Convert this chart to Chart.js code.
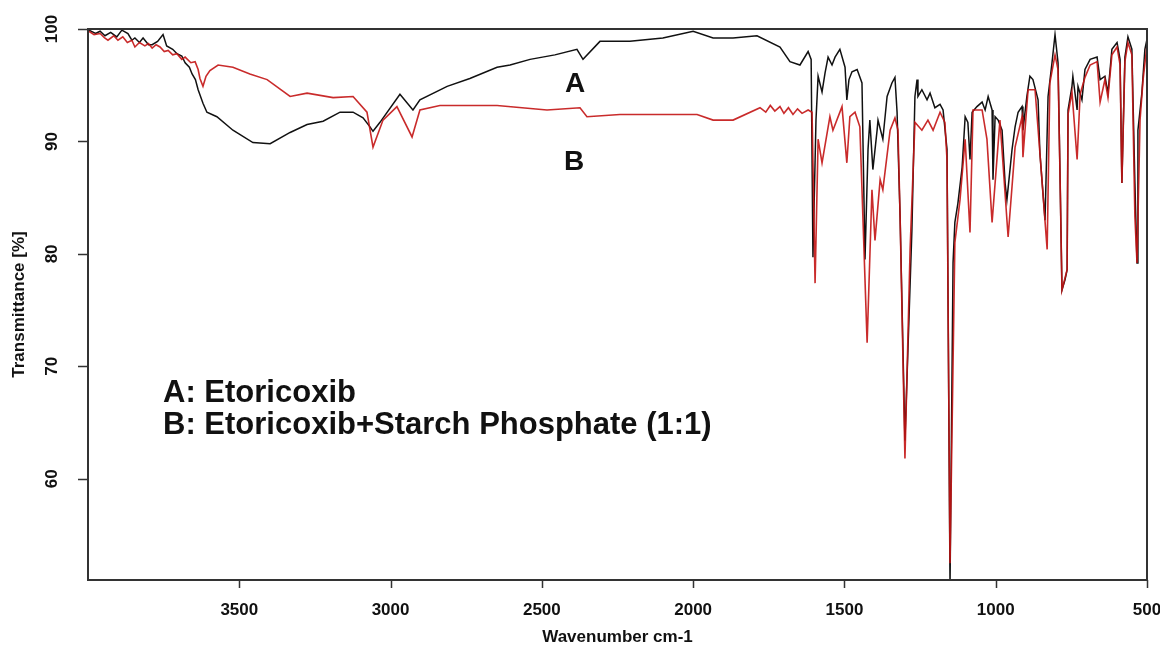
<!DOCTYPE html>
<html>
<head>
<meta charset="utf-8">
<script src="https://cdn.jsdelivr.net/npm/chart.js@4.4.1/dist/chart.umd.min.js"></script>
<style>
html,body{margin:0;padding:0;background:#fff;}
#wrap{width:1160px;height:646px;position:relative;}
</style>
</head>
<body>
<div id="wrap"><canvas id="c" width="1160" height="646"></canvas></div>
<script>
// ---- data (wavenumber cm-1, transmittance %) ----
const spectrumA = [[3997,99.9],[3975,99.6],[3960,99.8],[3944,99.4],[3925,99.7],[3905,99.3],[3888,99.9],[3868,99.6],[3855,99.0],[3845,99.2],[3830,98.8],[3818,99.2],[3800,98.6],[3788,98.6],[3770,98.9],[3752,99.5],[3740,98.5],[3720,98.2],[3706,97.8],[3690,97.6],[3679,97.0],[3665,96.6],[3656,96.0],[3645,95.5],[3636,94.6],[3620,93.4],[3607,92.6],[3574,92.2],[3521,91.0],[3455,89.9],[3398,89.8],[3332,90.8],[3276,91.5],[3223,91.8],[3167,92.6],[3124,92.6],[3091,92.1],[3068,91.3],[3058,90.9],[3035,91.7],[2969,94.2],[2926,92.8],[2903,93.7],[2813,94.9],[2738,95.6],[2648,96.6],[2605,96.8],[2539,97.3],[2457,97.7],[2384,98.2],[2364,97.3],[2308,98.9],[2209,98.9],[2100,99.2],[2000,99.8],[1934,99.2],[1868,99.2],[1789,99.4],[1713,98.4],[1680,97.1],[1647,96.8],[1620,98.0],[1610,97.3],[1604,79.7],[1594,91.9],[1587,95.8],[1574,94.4],[1564,96.1],[1554,97.5],[1541,96.8],[1531,97.5],[1515,98.2],[1498,96.6],[1492,93.7],[1485,95.5],[1475,96.2],[1458,96.4],[1442,95.2],[1432,79.5],[1422,89.3],[1416,91.9],[1406,87.5],[1392,91.0],[1389,91.9],[1373,90.2],[1359,94.0],[1343,95.2],[1333,95.7],[1326,92.6],[1316,83.3],[1300,63.4],[1277,82.1],[1267,94.0],[1260,95.5],[1257,94.0],[1244,94.6],[1227,93.7],[1217,94.3],[1201,93.0],[1184,93.3],[1174,92.8],[1161,89.3],[1151,50.5],[1141,79.2],[1135,82.8],[1125,84.5],[1111,87.7],[1101,92.2],[1092,91.7],[1085,88.4],[1078,92.6],[1062,93.1],[1045,93.5],[1035,92.8],[1025,94.0],[1012,92.8],[1009,86.6],[1002,92.2],[992,91.9],[979,91.0],[969,86.3],[963,84.8],[946,89.3],[936,91.3],[926,92.6],[913,93.1],[910,91.0],[897,94.0],[887,95.8],[877,95.5],[860,93.7],[854,89.0],[837,83.0],[827,94.0],[814,97.0],[804,99.5],[794,97.0],[787,86.3],[781,76.8],[771,77.7],[764,78.6],[761,92.8],[748,94.9],[745,95.8],[731,92.8],[728,94.9],[715,93.7],[705,96.4],[688,97.3],[665,97.5],[655,95.5],[639,95.8],[629,94.3],[616,98.2],[599,98.8],[589,97.3],[583,86.3],[573,97.5],[563,99.3],[550,98.2],[540,86.3],[533,79.2],[530,91.0],[517,94.3],[507,98.2],[500,99.1]];

const spectrumB = [[3997,99.8],[3980,99.5],[3960,99.6],[3945,99.2],[3934,99.0],[3915,99.4],[3901,99.0],[3885,99.3],[3870,98.8],[3855,99.0],[3845,98.4],[3830,98.8],[3812,98.5],[3800,98.7],[3788,98.3],[3775,98.6],[3762,98.4],[3748,98.0],[3735,98.1],[3720,97.7],[3706,97.8],[3690,97.3],[3679,97.5],[3660,97.0],[3646,97.1],[3636,96.4],[3630,95.6],[3620,94.9],[3610,95.8],[3597,96.3],[3570,96.8],[3521,96.6],[3465,96.0],[3408,95.5],[3332,94.0],[3276,94.3],[3190,93.9],[3124,94.0],[3078,92.6],[3058,89.5],[3025,91.9],[2979,93.1],[2929,90.4],[2903,92.8],[2837,93.2],[2648,93.2],[2483,92.8],[2374,93.0],[2351,92.2],[2242,92.4],[2153,92.4],[1987,92.4],[1934,91.9],[1868,91.9],[1779,93.0],[1760,92.6],[1745,93.2],[1730,92.7],[1713,93.1],[1700,92.5],[1685,93.0],[1670,92.4],[1655,92.9],[1640,92.5],[1620,92.8],[1607,92.6],[1597,77.4],[1587,90.2],[1574,88.1],[1548,92.2],[1538,91.0],[1508,93.1],[1492,88.1],[1482,92.2],[1465,92.6],[1449,91.3],[1425,72.1],[1409,85.7],[1399,81.2],[1382,86.6],[1373,85.7],[1349,91.0],[1333,92.1],[1323,91.0],[1316,83.3],[1300,61.8],[1283,80.4],[1267,91.7],[1244,91.0],[1224,91.9],[1207,91.0],[1184,92.6],[1168,91.7],[1161,88.4],[1151,52.5],[1135,81.0],[1118,84.8],[1101,90.2],[1085,81.9],[1075,92.8],[1045,92.8],[1029,90.2],[1012,82.8],[986,91.9],[959,81.5],[936,89.5],[913,92.2],[910,88.6],[893,94.6],[870,94.6],[854,89.0],[830,80.4],[821,95.2],[804,97.7],[794,96.4],[787,86.3],[781,76.8],[764,78.6],[761,92.4],[748,94.4],[731,88.4],[721,94.2],[705,95.7],[688,96.8],[665,97.1],[655,93.5],[639,95.5],[629,93.9],[616,97.7],[599,98.4],[589,96.8],[583,86.3],[573,97.1],[563,98.8],[550,97.7],[540,83.3],[533,79.2],[523,91.9],[513,95.5],[500,98.6]];

const xTickLabels = [3500, 3000, 2500, 2000, 1500, 1000, 500];
const yTickLabels = [60, 70, 80, 90, 100];
const xTitle = 'Wavenumber cm-1';
const yTitle = 'Transmittance [%]';
const seriesLabels = ['A', 'B'];
const legendLines = ['A: Etoricoxib', 'B: Etoricoxib+Starch Phosphate (1:1)'];
// label anchor points in data units [wavenumber, transmittance]
const seriesLabelPos = [[2390, 94.4], [2393, 87.5]];
const legendPos = [[3752, 66.8], [3752, 64.0]];

const FONT = '"Liberation Sans", Arial, Helvetica, sans-serif';

const decor = {
  id: 'decor',
  afterDraw(chart) {
    const {ctx, chartArea: a, scales: {x, y}} = chart;
    ctx.save();
    // frame
    ctx.strokeStyle = '#333';
    ctx.lineWidth = 2;
    ctx.strokeRect(a.left, a.top, a.right - a.left, a.bottom - a.top);
    // tick marks
    ctx.lineWidth = 1.5;
    ctx.beginPath();
    xTickLabels.forEach(v => {
      const px = Math.round(x.getPixelForValue(v)) + 0.5;
      ctx.moveTo(px, a.bottom); ctx.lineTo(px, a.bottom + 8);
    });
    yTickLabels.forEach(v => {
      const py = Math.round(y.getPixelForValue(v)) + 0.5;
      ctx.moveTo(a.left - 10, py); ctx.lineTo(a.left, py);
    });
    ctx.stroke();
    // tick labels
    ctx.fillStyle = '#111';
    ctx.font = 'bold 17px ' + FONT;
    ctx.textAlign = 'center';
    ctx.textBaseline = 'middle';
    xTickLabels.forEach(v => ctx.fillText(String(v), x.getPixelForValue(v), a.bottom + 30));
    yTickLabels.forEach(v => {
      ctx.save();
      ctx.translate(a.left - 36, y.getPixelForValue(v));
      ctx.rotate(-Math.PI / 2);
      ctx.fillText(String(v), 0, 0);
      ctx.restore();
    });
    // axis titles
    ctx.font = 'bold 17px ' + FONT;
    ctx.fillText(xTitle, (a.left + a.right) / 2, a.bottom + 57);
    ctx.save();
    ctx.translate(19, (a.top + a.bottom) / 2);
    ctx.rotate(-Math.PI / 2);
    ctx.fillText(yTitle, 0, 0);
    ctx.restore();
    // series labels
    ctx.font = 'bold 28px ' + FONT;
    ctx.textBaseline = 'alphabetic';
    seriesLabels.forEach((t, i) => {
      ctx.fillText(t, x.getPixelForValue(seriesLabelPos[i][0]), y.getPixelForValue(seriesLabelPos[i][1]));
    });
    // legend text
    ctx.font = 'bold 31px ' + FONT;
    ctx.textAlign = 'left';
    legendLines.forEach((t, i) => {
      ctx.fillText(t, x.getPixelForValue(legendPos[i][0]), y.getPixelForValue(legendPos[i][1]));
    });
    ctx.restore();
  }
};

const toXY = arr => arr.map(p => ({x: p[0], y: p[1]}));

new Chart(document.getElementById('c'), {
  type: 'scatter',
  data: {
    datasets: [
      {label: 'B', data: toXY(spectrumB), showLine: true, borderColor: 'rgba(195,20,20,0.9)', borderWidth: 1.6, pointRadius: 0, tension: 0, order: 0},
      {label: 'A', data: toXY(spectrumA), showLine: true, borderColor: '#111', borderWidth: 1.5, pointRadius: 0, tension: 0, order: 1}
    ]
  },
  options: {
    responsive: false,
    animation: false,
    layout: {padding: {left: 0, right: 13, top: 29, bottom: 0}},
    plugins: {legend: {display: false}, tooltip: {enabled: false}},
    scales: {
      x: {
        type: 'linear', reverse: true, min: 500, max: 4000,
        grid: {display: false}, border: {display: false},
        ticks: {display: false, stepSize: 500},
        afterFit(s) { s.height = 66; }
      },
      y: {
        type: 'linear', min: 51, max: 100,
        grid: {display: false}, border: {display: false},
        ticks: {display: false, stepSize: 10},
        afterFit(s) { s.width = 88; }
      }
    }
  },
  plugins: [decor]
});
</script>
</body>
</html>
